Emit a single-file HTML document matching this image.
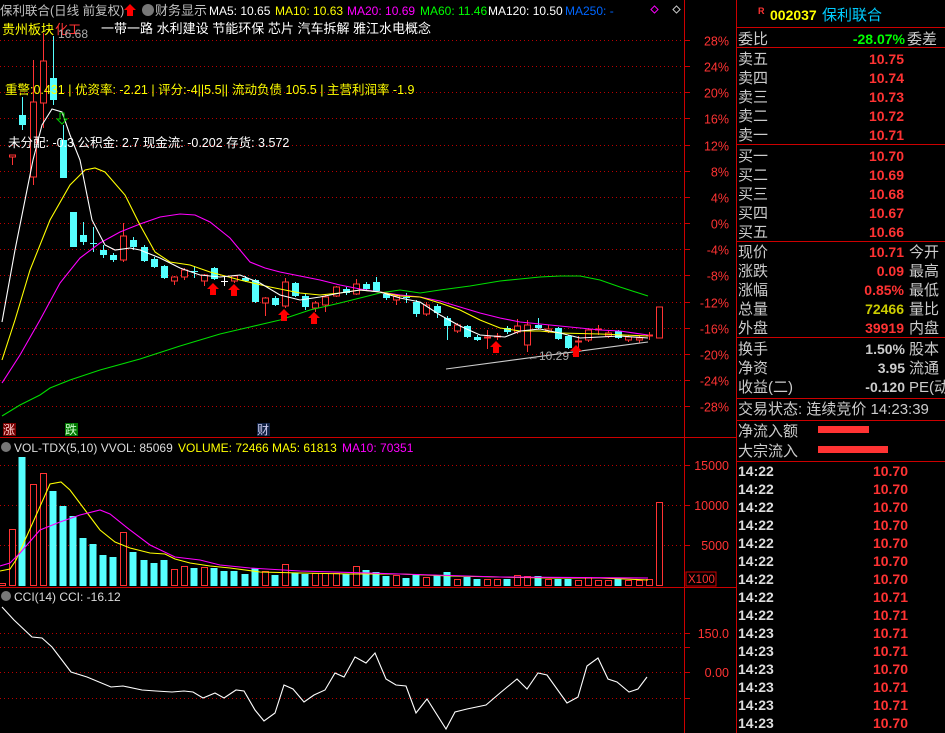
<!DOCTYPE html>
<html><head><meta charset="utf-8"><style>
body{margin:0;background:#000;width:945px;height:733px;overflow:hidden;font-family:"Liberation Sans","Noto Sans CJK SC",sans-serif}
svg{position:absolute;left:0;top:0}
text{font-family:"Liberation Sans","Noto Sans CJK SC",sans-serif}
</style></head><body>
<svg id="s" width="945" height="733" xmlns="http://www.w3.org/2000/svg">
<g id="grid"></g>
<g id="shapes"></g>
<line x1="684.5" y1="0" x2="684.5" y2="733" stroke="#c00" stroke-width="1"/>
<line x1="736.5" y1="0" x2="736.5" y2="733" stroke="#c00" stroke-width="1"/>
<line x1="0" y1="437.5" x2="736" y2="437.5" stroke="#c00"/>
<line x1="0" y1="587.5" x2="736" y2="587.5" stroke="#c00"/>
<text x="0" y="15" font-size="12.5" fill="#c0c0c0">保利联合(日线 前复权)</text>
<polygon points="130,4 136,10 133,10 133,16 127,16 127,10 124,10" fill="#f00"/>
<circle cx="148" cy="10" r="6" fill="#777"/>
<text x="155" y="15" font-size="13" fill="#c0c0c0">财务显示</text>
<text x="209" y="15" font-size="12" fill="#fff">MA5: 10.65</text>
<text x="275" y="15" font-size="12" fill="#ff0">MA10: 10.63</text>
<text x="347" y="15" font-size="12" fill="#f0f">MA20: 10.69</text>
<text x="420" y="15" font-size="12" fill="#0f0">MA60: 11.46</text>
<text x="488" y="15" font-size="12" fill="#fff">MA120: 10.50</text>
<text x="565" y="15" font-size="12" fill="#06f">MA250: -</text>
<rect x="652" y="7" width="5" height="5" fill="none" stroke="#f0f" transform="rotate(45 654.5 9.5)"/>
<rect x="674" y="7" width="5" height="5" fill="none" stroke="#ccc" transform="rotate(45 676.5 9.5)"/>
<text x="2" y="34" font-size="13" fill="#ff0">贵州板块</text>
<text x="55" y="34" font-size="13" fill="#f33">化工</text>
<text x="58" y="38" font-size="12" fill="#aaa">16.68</text>
<text x="101" y="33" font-size="13" fill="#fff">一带一路 水利建设 节能环保 芯片 汽车拆解 雅江水电概念</text>
<text x="5" y="94" font-size="12.5" fill="#ff0">重警:0.431 | 优资率: -2.21 | 评分:-4||5.5||</text>
<text x="232" y="94" font-size="12.5" fill="#ff0">流动负债 105.5 | 主营利润率 -1.9</text>
<text x="8" y="147" font-size="12.5" fill="#fff">未分配: -0.3  公积金: 2.7  现金流: -0.202  存货: 3.572</text>
<rect x="3" y="423" width="13" height="13" fill="#700"/><text x="3" y="434" font-size="12" fill="#fcc">涨</text>
<rect x="65" y="423" width="13" height="13" fill="#070"/><text x="65" y="434" font-size="12" fill="#cfc">跌</text>
<rect x="257" y="423" width="13" height="13" fill="#124"/><text x="257" y="434" font-size="12" fill="#cce">财</text>
<text x="527" y="360" font-size="12" fill="#aaa">←10.29</text>
<circle cx="6" cy="447" r="5" fill="#777"/>
<text x="14" y="452" font-size="12" fill="#ddd">VOL-TDX(5,10)  VVOL: 85069</text>
<text x="178" y="452" font-size="12" fill="#ff0">VOLUME: 72466  MA5: 61813</text>
<text x="342" y="452" font-size="12" fill="#f0f">MA10: 70351</text>
<circle cx="6" cy="596" r="5" fill="#777"/>
<text x="14" y="601" font-size="12" fill="#ddd">CCI(14)  CCI: -16.12</text>
<g font-size="12.5" fill="#f33" text-anchor="end" id="axl"></g>
<rect x="686" y="572" width="30" height="14" fill="none" stroke="#c00"/>
<text x="688" y="583" font-size="11.5" fill="#f33">X100</text>
<g font-size="15" id="rp">
<text x="758" y="14" font-size="9" fill="#f33" font-weight="bold">R</text>
<text x="770" y="20" fill="#ff0" font-weight="bold" font-size="14">002037</text>
<text x="822" y="20" fill="#0cf" font-size="15">保利联合</text>
<line x1="737" y1="27.5" x2="945" y2="27.5" stroke="#c00"/>
<text x="738" y="44" fill="#ccc">委比</text><text x="905" y="44" fill="#0f0" text-anchor="end" font-weight="bold" font-size="14">-28.07%</text><text x="907" y="44" fill="#ccc">委差</text>
<line x1="737" y1="47.5" x2="945" y2="47.5" stroke="#c00"/>
<line x1="737" y1="144.5" x2="945" y2="144.5" stroke="#c00"/>
<line x1="737" y1="241.5" x2="945" y2="241.5" stroke="#c00"/>
<line x1="737" y1="337.5" x2="945" y2="337.5" stroke="#c00"/>
<line x1="737" y1="398.5" x2="945" y2="398.5" stroke="#c00"/>
<line x1="737" y1="420.5" x2="945" y2="420.5" stroke="#c00"/>
<line x1="737" y1="461.5" x2="945" y2="461.5" stroke="#c00"/>
<g fill="#ccc"><text x="738" y="64">卖五</text><text x="738" y="83">卖四</text><text x="738" y="102">卖三</text><text x="738" y="121">卖二</text><text x="738" y="140">卖一</text>
<text x="738" y="161">买一</text><text x="738" y="180">买二</text><text x="738" y="199">买三</text><text x="738" y="218">买四</text><text x="738" y="237">买五</text>
<text x="738" y="257">现价</text><text x="738" y="276">涨跌</text><text x="738" y="295">涨幅</text><text x="738" y="314">总量</text><text x="738" y="333">外盘</text>
<text x="909" y="257">今开</text><text x="909" y="276">最高</text><text x="909" y="295">最低</text><text x="909" y="314">量比</text><text x="909" y="333">内盘</text>
<text x="738" y="354">换手</text><text x="738" y="373">净资</text><text x="738" y="392">收益(二)</text>
<text x="909" y="354">股本</text><text x="909" y="373">流通</text><text x="909" y="392">PE(动</text>
<text x="738" y="414">交易状态: 连续竞价 14:23:39</text>
<text x="738" y="436">净流入额</text><text x="738" y="456">大宗流入</text>
<text x="905" y="354" text-anchor="end" font-weight="bold" font-size="14">1.50%</text><text x="905" y="373" text-anchor="end" font-weight="bold" font-size="14">3.95</text><text x="905" y="392" text-anchor="end" font-weight="bold" font-size="14">-0.120</text>
</g>
<g fill="#f33" font-weight="bold" text-anchor="end" font-size="14">
<text x="904" y="64">10.75</text><text x="904" y="83">10.74</text><text x="904" y="102">10.73</text><text x="904" y="121">10.72</text><text x="904" y="140">10.71</text>
<text x="904" y="161">10.70</text><text x="904" y="180">10.69</text><text x="904" y="199">10.68</text><text x="904" y="218">10.67</text><text x="904" y="237">10.66</text>
<text x="904" y="257">10.71</text><text x="904" y="276">0.09</text><text x="904" y="295">0.85%</text><text x="904" y="314" fill="#cc0">72466</text><text x="904" y="333">39919</text>
</g>
<rect x="818" y="426" width="51" height="7" fill="#f33"/>
<rect x="818" y="446" width="70" height="7" fill="#f33"/>
<g id="ticks" font-weight="bold" font-size="14"></g>
</g>
</svg>
<script>
var NS="http://www.w3.org/2000/svg";
function el(p,t,a){var e=document.createElementNS(NS,t);for(var k in a)e.setAttribute(k,a[k]);document.getElementById(p).appendChild(e);return e;}
function txt(p,x,y,s,a){var e=el(p,"text",Object.assign({x:x,y:y},a||{}));e.textContent=s;}
var pl=["28%","24%","20%","16%","12%","8%","4%","0%","-4%","-8%","-12%","-16%","-20%","-24%","-28%"];
for(var i=0;i<15;i++){var y=Math.round(40+i*26.15)+0.5;el("grid","line",{x1:0,y1:y,x2:684,y2:y,stroke:"#b00","stroke-dasharray":"1,3"});el("grid","line",{x1:684,y1:y,x2:690,y2:y,stroke:"#c00"});txt("axl",729,y+5,pl[i]);}
[[465,"15000"],[505,"10000"],[545,"5000"]].forEach(function(g){el("grid","line",{x1:0,y1:g[0]+.5,x2:684,y2:g[0]+.5,stroke:"#b00","stroke-dasharray":"1,3"});el("grid","line",{x1:684,y1:g[0]+.5,x2:690,y2:g[0]+.5,stroke:"#c00"});txt("axl",729,g[0]+5,g[1]);});
[[633,"150.0"],[647,""],[672,"0.00"],[698,""]].forEach(function(g){el("grid","line",{x1:0,y1:g[0]+.5,x2:684,y2:g[0]+.5,stroke:"#b00","stroke-dasharray":"1,3"});el("grid","line",{x1:684,y1:g[0]+.5,x2:690,y2:g[0]+.5,stroke:"#c00"});if(g[1])txt("axl",729,g[0]+5,g[1]);});
function X(i){return 2.2+10.1*i;}
var C=[[1,155,157,155,165,'r'],[2,115,125,97,130,'c'],[3,102,177,60,185,'r'],[4,61,103,33,128,'r'],[5,78,100,36,105,'c'],[6,140,178,125,178,'c'],
[7,212,247,212,247,'c'],[8,235,242,222,245,'c'],[9,243,244,227,252,'c'],[10,250,255,245,258,'c'],[11,255,260,253,262,'c'],[12,236,260,223,262,'r'],
[13,240,247,237,250,'c'],[14,247,261,245,262,'c'],[15,259,267,257,268,'c'],[16,266,278,265,279,'c'],[17,277,281,276,285,'r'],[18,270,277,268,280,'r'],
[19,271,272,266,278,'c'],[20,275,281,274,286,'r'],[21,268,279,267,280,'c'],[22,281,282,277,286,'w'],[23,276,281,275,283,'r'],[24,278,281,276,282,'c'],
[25,280,302,279,303,'c'],[26,298,303,297,316,'r'],[27,298,305,296,306,'c'],[28,282,306,278,308,'r'],[29,283,296,282,297,'c'],[30,296,307,294,310,'c'],
[31,303,308,301,312,'r'],[32,297,305,295,312,'r'],[33,287,296,286,297,'r'],[34,289,293,287,295,'c'],[35,284,294,279,295,'r'],[36,284,289,282,291,'c'],
[37,282,291,277,292,'c'],[38,294,298,292,300,'c'],[39,296,300,295,305,'r'],[40,297,298,293,303,'c'],[41,302,314,300,317,'c'],[42,305,314,302,316,'r'],
[43,306,313,304,318,'c'],[44,318,326,316,340,'c'],[45,325,331,323,333,'r'],[46,326,337,325,338,'c'],[47,337,340,335,341,'c'],[48,337,338,330,349,'r'],
[49,336,337,333,340,'r'],[50,328,332,326,334,'c'],[51,326,332,319,334,'r'],[52,325,345,320,352,'r'],[53,325,328,318,329,'c'],[54,329,331,325,333,'r'],
[55,328,339,327,340,'c'],[56,336,348,335,349,'c'],[57,341,342,336,349,'r'],[58,330,340,328,342,'r'],[59,329,330,325,335,'r'],[60,333,336,331,338,'r'],
[61,331,338,330,339,'c'],[62,337,340,335,342,'r'],[63,338,340,336,343,'r'],[64,335,336,332,340,'r'],[65,307,338,307,338,'r']];
var col={r:"#f33",c:"#5ff",w:"#fff"};
C.forEach(function(c){var x=Math.round(X(c[0]))+.5,k=col[c[5]];
el("shapes","line",{x1:x,y1:c[3],x2:x,y2:c[4],stroke:k});
var h=Math.max(1,c[2]-c[1]);
if(c[5]=='r')el("shapes","rect",{x:x-3,y:c[1],width:6,height:h,fill:"#000",stroke:k});
else el("shapes","rect",{x:x-3.5,y:c[1],width:7,height:h,fill:k});});
function pline(pts,c){el("shapes","polyline",{points:pts.map(function(p){return p.join(",")}).join(" "),fill:"none",stroke:c,"stroke-width":1.1});}
pline([[2,416],[20,405],[40,395],[50,388],[70,380],[100,370],[140,359],[180,346],[220,334],[250,327],[280,320],[310,310],[340,303],[380,293],[400,290],[420,293],[440,290],[470,286],[500,281],[520,279],[540,277],[560,276],[580,276],[600,280],[620,287],[648,296]],"#0d0");
pline([[2,383],[20,355],[40,320],[60,283],[80,258],[100,243],[120,232],[140,224],[160,217],[180,214],[195,215],[210,222],[230,238],[250,262],[265,268],[280,272],[300,276],[320,280],[340,285],[360,289],[380,292],[400,295],[420,297],[440,301],[460,307],[480,313],[500,318],[520,322],[540,324],[560,326],[580,328],[600,330],[620,331],[648,335]],"#f0f");
pline([[2,360],[15,320],[30,270],[50,220],[70,185],[85,170],[95,168],[105,172],[125,195],[140,225],[155,252],[170,262],[190,265],[210,272],[240,280],[270,287],[300,293],[320,295],[340,293],[360,290],[380,292],[400,296],[420,297],[440,303],[460,310],[480,320],[500,328],[520,331],[540,331],[560,333],[600,334],[648,336]],"#ff0");
pline([[2,322],[15,250],[33,160],[42,125],[52,109],[62,112],[70,135],[80,160],[92,220],[105,245],[115,250],[130,248],[140,250],[160,258],[180,268],[200,275],[220,277],[240,275],[260,283],[280,295],[300,300],[320,297],[340,293],[360,290],[380,292],[400,298],[420,302],[440,315],[460,326],[480,335],[505,337],[520,331],[540,329],[560,333],[580,338],[600,337],[620,336],[648,338]],"#fff");
pline([[446,369],[648,342]],"#ccc");
[[213,283],[234,284],[284,309],[314,312],[496,341],[576,345]].forEach(function(a){var x=a[0],y=a[1];
el("shapes","polygon",{points:[x,y,x+6,y+6,x+3,y+6,x+3,y+12,x-3,y+12,x-3,y+6,x-6,y+6].join(","),fill:"#f00"});});
el("shapes","polygon",{points:"60,113 64,113 64,119 67,119 62,124 57,119 60,119",fill:"none",stroke:"#0c0"});
var V=[[0,583,'r'],[1,529,'r'],[2,457,'c'],[3,484,'r'],[4,473,'r'],[5,491,'c'],[6,506,'c'],[7,516,'c'],[8,538,'c'],[9,544,'c'],[10,555,'c'],[11,557,'c'],[12,532,'r'],[13,552,'c'],[14,560,'c'],[15,563,'c'],[16,560,'c'],[17,569,'r'],[18,566,'r'],[19,568,'c'],[20,567,'r'],[21,568,'c'],[22,571,'c'],[23,571,'c'],[24,574,'c'],[25,568,'c'],[26,571,'r'],[27,575,'c'],[28,564,'r'],[29,573,'c'],[30,574,'c'],[31,573,'r'],[32,573,'r'],[33,573,'r'],[34,574,'c'],[35,566,'r'],[36,570,'c'],[37,572,'c'],[38,576,'c'],[39,575,'r'],[40,578,'c'],[41,574,'c'],[42,577,'r'],[43,575,'c'],[44,572,'c'],[45,579,'r'],[46,577,'c'],[47,579,'c'],[48,579,'r'],[49,579,'r'],[50,579,'c'],[51,575,'r'],[52,576,'r'],[53,576,'c'],[54,579,'r'],[55,579,'c'],[56,579,'c'],[57,580,'r'],[58,577,'r'],[59,580,'r'],[60,580,'r'],[61,579,'c'],[62,580,'r'],[63,580,'r'],[64,579,'r'],[65,502,'r']];
V.forEach(function(v){var x=Math.round(X(v[0]));
if(v[2]=='r')el("shapes","rect",{x:x-3+.5,y:v[1]+.5,width:6,height:585-v[1],fill:"#000",stroke:"#f33"});
else el("shapes","rect",{x:x-3.5,y:v[1],width:7,height:586-v[1],fill:"#5ff"});});
pline([[0,571],[10,569],[16,560],[30,529],[50,484],[61,482],[70,490],[85,510],[100,530],[115,542],[130,548],[150,553],[165,554],[175,559],[190,563],[210,566],[230,568],[260,572],[300,573],[350,574],[400,574],[450,576],[500,577],[550,578],[600,578],[648,580]],"#ff0");
pline([[0,566],[10,563],[20,553],[40,530],[60,522],[80,515],[100,510],[110,514],[130,530],[150,545],[175,557],[200,560],[220,565],[250,568],[300,571],[400,574],[500,577],[648,578]],"#f0f");
pline([[2,607],[14,620],[32,637],[42,638],[52,647],[71,672],[87,677],[111,687],[123,686],[142,690],[156,691],[172,692],[184,691],[193,692],[203,698],[215,693],[224,698],[236,690],[244,691],[255,710],[264,721],[275,713],[284,685],[293,689],[304,702],[314,695],[325,690],[335,673],[344,677],[355,657],[366,663],[375,653],[386,679],[396,685],[406,686],[416,713],[427,699],[446,729],[455,712],[467,709],[486,705],[500,693],[517,679],[527,689],[538,673],[547,675],[567,703],[578,697],[587,666],[598,658],[608,679],[617,682],[629,692],[638,689],[647,677]],"#fff");
var T=[["14:22","10.70"],["14:22","10.70"],["14:22","10.70"],["14:22","10.70"],["14:22","10.70"],["14:22","10.70"],["14:22","10.70"],["14:22","10.71"],["14:22","10.71"],["14:23","10.71"],["14:23","10.71"],["14:23","10.70"],["14:23","10.71"],["14:23","10.71"],["14:23","10.70"]];
T.forEach(function(t,i){var y=476+i*18;txt("ticks",738,y,t[0],{fill:"#ddd"});txt("ticks",908,y,t[1],{fill:"#f33","text-anchor":"end"});});
</script>
</body></html>
